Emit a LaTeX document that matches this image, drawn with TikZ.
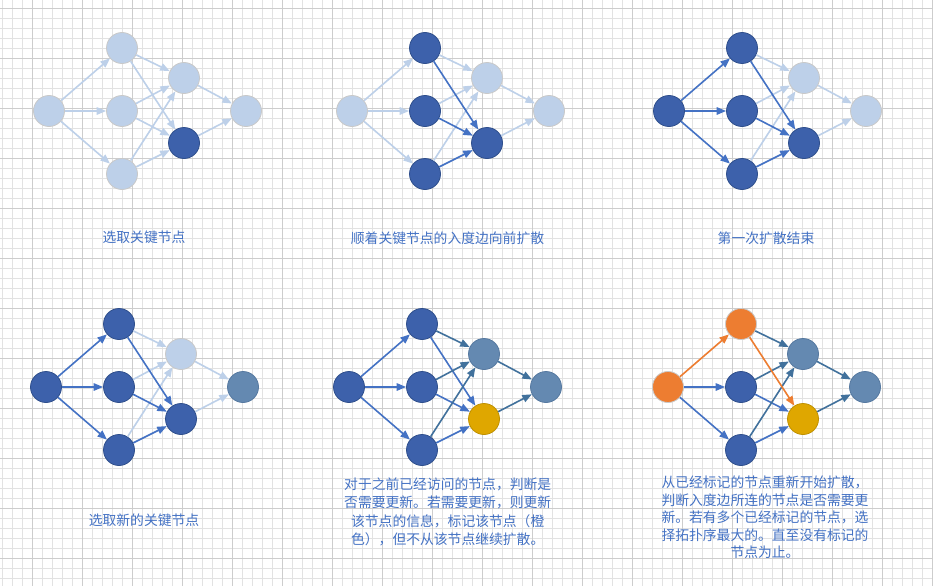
\documentclass[tikz,border=0pt]{standalone}
\usepackage{fontspec}
\usepackage{xcolor}
\usepackage{tikz}
\usetikzlibrary{arrows.meta}
\newfontfamily\cjk{Noto Sans CJK SC}

\definecolor{paleblue}{HTML}{BDD0E9}
\definecolor{palerim}{HTML}{C9C9C9}
\definecolor{deepblue}{HTML}{3D61AB}
\definecolor{deeprim}{HTML}{2F4F8C}
\definecolor{slateblue}{HTML}{6489B1}
\definecolor{slaterim}{HTML}{5679A0}
\definecolor{golden}{HTML}{DFA700}
\definecolor{goldrim}{HTML}{BF9000}
\definecolor{tangerine}{HTML}{ED7D31}
\definecolor{arrowblue}{HTML}{4472C4}
\definecolor{steelblue}{HTML}{41719C}
\definecolor{minorgrid}{HTML}{E2E2E2}
\definecolor{majorgrid}{HTML}{CDCDCD}

\begin{document}
\begin{tikzpicture}[x=1pt, y=-1pt,
    vertex/.style={circle, minimum size=31pt, inner sep=0pt, line width=0.8pt},
    lightnode/.style={vertex, fill=paleblue, draw=palerim},
    darknode/.style={vertex, fill=deepblue, draw=deeprim},
    slatenode/.style={vertex, fill=slateblue, draw=slaterim},
    goldnode/.style={vertex, fill=golden, draw=goldrim},
    orangenode/.style={vertex, fill=tangerine, draw=palerim},
    link/.style={-{Triangle[length=9.5pt,width=7.5pt]}, line width=1.6pt},
    lightedge/.style={link, draw=paleblue, fill=paleblue},
    darkedge/.style={link, draw=arrowblue, fill=arrowblue},
    steeledge/.style={link, draw=steelblue, fill=steelblue},
    orangeedge/.style={link, draw=tangerine, fill=tangerine},
    caption/.style={text=arrowblue, font=\cjk\fontsize{13.8}{18.3}\selectfont, align=center}]

    \fill[white] (0,0) rectangle (933,586);
    \useasboundingbox (0,0) rectangle (933,586);

    \foreach \gx in {2.3,12.3,...,932.3}
        \draw[minorgrid, line width=0.9pt] (\gx,0) -- (\gx,586);
    \foreach \gy in {8,18,...,586}
        \draw[minorgrid, line width=0.9pt] (0,\gy) -- (933,\gy);
    \foreach \gx in {32.3,82.3,...,932.3}
        \draw[majorgrid, line width=0.9pt] (\gx,0) -- (\gx,586);
    \foreach \gy in {8,58,...,586}
        \draw[majorgrid, line width=0.9pt] (0,\gy) -- (933,\gy);

    % panel 1
    \begin{scope}[shift={(49,111)}]
        \node[lightnode] (p1l) at (0,0) {};
        \node[lightnode] (p1t) at (73,-63) {};
        \node[lightnode] (p1m) at (73,0) {};
        \node[lightnode] (p1b) at (73,63) {};
        \node[lightnode] (p1u) at (135,-33) {};
        \node[darknode] (p1d) at (135,32) {};
        \node[lightnode] (p1r) at (197,0) {};
    \end{scope}
    \foreach \s/\t in {l/t,l/m,l/b,t/u,t/d,m/u,m/d,b/u,b/d,u/r,d/r}
        \draw[lightedge] (p1\s) -- (p1\t);

    % panel 2
    \begin{scope}[shift={(352,111)}]
        \node[lightnode] (p2l) at (0,0) {};
        \node[darknode] (p2t) at (73,-63) {};
        \node[darknode] (p2m) at (73,0) {};
        \node[darknode] (p2b) at (73,63) {};
        \node[lightnode] (p2u) at (135,-33) {};
        \node[darknode] (p2d) at (135,32) {};
        \node[lightnode] (p2r) at (197,0) {};
    \end{scope}
    \foreach \s/\t/\e in {l/t/lightedge,l/m/lightedge,l/b/lightedge,t/u/lightedge,m/u/lightedge,b/u/lightedge,
        u/r/lightedge,d/r/lightedge,t/d/darkedge,m/d/darkedge,b/d/darkedge}
        \draw[\e] (p2\s) -- (p2\t);

    % panel 3
    \begin{scope}[shift={(669,111)}]
        \node[darknode] (p3l) at (0,0) {};
        \node[darknode] (p3t) at (73,-63) {};
        \node[darknode] (p3m) at (73,0) {};
        \node[darknode] (p3b) at (73,63) {};
        \node[lightnode] (p3u) at (135,-33) {};
        \node[darknode] (p3d) at (135,32) {};
        \node[lightnode] (p3r) at (197,0) {};
    \end{scope}
    \foreach \s/\t/\e in {t/u/lightedge,m/u/lightedge,b/u/lightedge,u/r/lightedge,d/r/lightedge,
        l/t/darkedge,l/m/darkedge,l/b/darkedge,t/d/darkedge,m/d/darkedge,b/d/darkedge}
        \draw[\e] (p3\s) -- (p3\t);

    % panel 4
    \begin{scope}[shift={(46,387)}]
        \node[darknode] (p4l) at (0,0) {};
        \node[darknode] (p4t) at (73,-63) {};
        \node[darknode] (p4m) at (73,0) {};
        \node[darknode] (p4b) at (73,63) {};
        \node[lightnode] (p4u) at (135,-33) {};
        \node[darknode] (p4d) at (135,32) {};
        \node[slatenode] (p4r) at (197,0) {};
    \end{scope}
    \foreach \s/\t/\e in {t/u/lightedge,m/u/lightedge,b/u/lightedge,u/r/lightedge,d/r/lightedge,
        l/t/darkedge,l/m/darkedge,l/b/darkedge,t/d/darkedge,m/d/darkedge,b/d/darkedge}
        \draw[\e] (p4\s) -- (p4\t);

    % panel 5
    \begin{scope}[shift={(349,387)}]
        \node[darknode] (p5l) at (0,0) {};
        \node[darknode] (p5t) at (73,-63) {};
        \node[darknode] (p5m) at (73,0) {};
        \node[darknode] (p5b) at (73,63) {};
        \node[slatenode] (p5u) at (135,-33) {};
        \node[goldnode] (p5d) at (135,32) {};
        \node[slatenode] (p5r) at (197,0) {};
    \end{scope}
    \foreach \s/\t/\e in {l/t/darkedge,l/m/darkedge,l/b/darkedge,t/d/darkedge,m/d/darkedge,b/d/darkedge,
        t/u/steeledge,m/u/steeledge,b/u/steeledge,u/r/steeledge,d/r/steeledge}
        \draw[\e] (p5\s) -- (p5\t);

    % panel 6
    \begin{scope}[shift={(668,387)}]
        \node[orangenode] (p6l) at (0,0) {};
        \node[orangenode] (p6t) at (73,-63) {};
        \node[darknode] (p6m) at (73,0) {};
        \node[darknode] (p6b) at (73,63) {};
        \node[slatenode] (p6u) at (135,-33) {};
        \node[goldnode] (p6d) at (135,32) {};
        \node[slatenode] (p6r) at (197,0) {};
    \end{scope}
    \foreach \s/\t/\e in {l/m/darkedge,l/b/darkedge,m/d/darkedge,b/d/darkedge,
        t/u/steeledge,m/u/steeledge,b/u/steeledge,u/r/steeledge,d/r/steeledge,
        l/t/orangeedge,t/d/orangeedge}
        \draw[\e] (p6\s) -- (p6\t);

    \node[caption] (cap1) at (144,237) {选取关键节点};
    \node[caption] (cap2) at (447.5,238) {顺着关键节点的入度边向前扩散};
    \node[caption] (cap3) at (766,238) {第一次扩散结束};
    \node[caption] (cap4) at (144,520) {选取新的关键节点};
    \node[caption] (cap5) at (447.7,512) {对于之前已经访问的节点，判断是\\否需要更新。若需要更新，则更新\\该节点的信息，标记该节点（橙\\色），但不从该节点继续扩散。};
    \node[caption, font=\cjk\fontsize{13.8}{17.5}\selectfont] (cap6) at (765,517.5) {从已经标记的节点重新开始扩散，\\判断入度边所连的节点是否需要更\\新。若有多个已经标记的节点，选\\择拓扑序最大的。直至没有标记的\\节点为止。};
\end{tikzpicture}
\end{document}
